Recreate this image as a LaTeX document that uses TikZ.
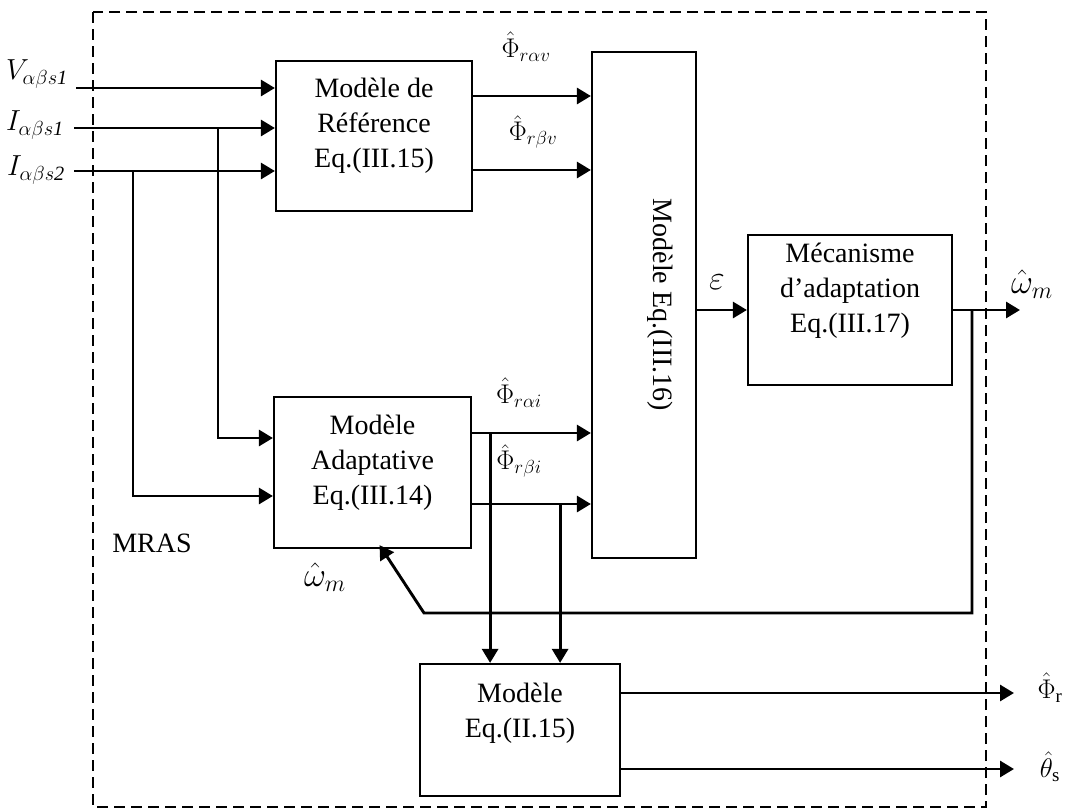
\documentclass[tikz,border=0pt]{standalone}
\usepackage{fix-cm}
\usepackage{amsmath,amssymb}
\usepackage{fontspec}
\setmainfont{Liberation Serif}
\usepackage{xcolor}
\usepackage{tikz}
\usetikzlibrary{arrows.meta,positioning,calc}

\newcommand{\boxfont}{\fontsize{28}{35}\selectfont}
\newcommand{\sigfont}{\fontsize{29}{33}\selectfont}
\newcommand{\omegafont}{\fontsize{34}{38}\selectfont}
\newcommand{\phifont}{\fontsize{27}{31}\selectfont}
\newcommand{\lowpad}[1]{\rule[-#1]{0pt}{#1}}

\begin{document}
\begin{tikzpicture}[
    x=1pt, y=-1pt,
    block/.style={rectangle, draw, line width=2.2pt, align=center, inner sep=0pt, font=\boxfont},
    arrow/.style={-{Triangle[length=14pt,width=16pt]}, line width=2.9pt},
    sig/.style={inner sep=0pt, font=\sigfont},
    flux/.style={inner sep=0pt, font=\phifont},
    frame/.style={line width=2pt, dash pattern=on 11pt off 6pt}
]
\useasboundingbox (0,0) rectangle (1070,811);

% MRAS frame
\draw[frame] (93,12) rectangle (986,807);

% Nodes
\node[block, minimum width=196pt, minimum height=150pt] (ref_model) at (374,136) {Modèle de\\Référence\\Eq.(III.15)\lowpad{26pt}};
\node[block, minimum width=197pt, minimum height=151pt] (adapt_model) at (372.5,472.5) {Modèle\\Adaptative\\Eq.(III.14)\lowpad{26pt}};
\node[block, minimum width=104pt, minimum height=506pt] (flux_cmp) at (644,305) {\rotatebox{-90}{Modèle Eq.(III.16)\lowpad{38pt}}};
\node[block, minimum width=204pt, minimum height=150pt] (adapt_mech) at (850,310) {Mécanisme\\d’adaptation\\Eq.(III.17)\lowpad{44pt}};
\node[block, minimum width=200pt, minimum height=132pt] (flux_est) at (520,730) {Modèle\\Eq.(II.15)\lowpad{40pt}};

\node[sig] (v_lbl) at (37,74) {$V_{\alpha\beta s\mathit{1}}$};
\node[sig] (i1_lbl) at (35,125) {$I_{\alpha\beta s\mathit{1}}$};
\node[sig] (i2_lbl) at (36,170) {$I_{\alpha\beta s\mathit{2}}$};
\node[flux] (rav_lbl) at (526,47) {$\hat{\Phi}_{r\alpha v}$};
\node[flux] (rbv_lbl) at (533,132) {$\hat{\Phi}_{r\beta v}$};
\node[flux] (rai_lbl) at (519,393) {$\hat{\Phi}_{r\alpha i}$};
\node[flux] (rbi_lbl) at (519,461) {$\hat{\Phi}_{r\beta i}$};
\node[inner sep=0pt, font=\fontsize{34}{38}\selectfont] (eps_lbl) at (717,282) {$\varepsilon$};
\node[inner sep=0pt, font=\omegafont] (w_lbl) at (1032,284) {$\hat{\omega}_m$};
\node[inner sep=0pt, font=\omegafont] (wfb_lbl) at (325,577) {$\hat{\omega}_m$};
\node[inner sep=0pt, font=\boxfont] (mras_lbl) at (152,543) {MRAS};
\node[flux] (phi_lbl) at (1050,688) {$\hat{\Phi}_{\mathrm{r}}$};
\node[flux] (theta_lbl) at (1050,767) {$\hat{\theta}_{\mathrm{s}}$};

% Edges
\coordinate (v_start) at (76,88);
\coordinate (i1_start) at (74,128);
\coordinate (i2_start) at (74,171);
\draw[arrow] (v_start) -- (v_start -| ref_model.west);
\draw[arrow] (i1_start) -- (i1_start -| ref_model.west);
\draw[arrow] (i2_start) -- (i2_start -| ref_model.west);

\coordinate (i1_tap) at (218,128);
\coordinate (i2_tap) at (133,171);
\draw[arrow] (i1_tap) |- ([yshift=34.5pt]adapt_model.west);
\draw[arrow] (i2_tap) |- ([yshift=-23.5pt]adapt_model.west);

\coordinate (rav) at ([yshift=40pt]ref_model.east);
\coordinate (rbv) at ([yshift=-34pt]ref_model.east);
\draw[arrow] (rav) -- (rav -| flux_cmp.west);
\draw[arrow] (rbv) -- (rbv -| flux_cmp.west);

\coordinate (rai) at ([yshift=39.5pt]adapt_model.east);
\coordinate (rbi) at ([yshift=-31.5pt]adapt_model.east);
\draw[arrow] (rai) -- (rai -| flux_cmp.west);
\draw[arrow] (rbi) -- (rbi -| flux_cmp.west);

\coordinate (rai_tap) at ($(rai)+(18,0)$);
\coordinate (rbi_tap) at ($(rbi)+(88,0)$);
\draw[arrow] (rai_tap) -- (rai_tap |- flux_est.north);
\draw[arrow] (rbi_tap) -- (rbi_tap |- flux_est.north);

\draw[arrow] (flux_cmp.east |- adapt_mech.west) -- (adapt_mech.west);

\coordinate (w_out) at (1020,310);
\coordinate (w_tap) at (972,310);
\coordinate (fb_corner) at (424,613);
\draw[arrow] (adapt_mech.east) -- (w_out);
\draw[arrow] (w_tap) |- (fb_corner) -- ([xshift=7pt,yshift=4pt]adapt_model.south);

\coordinate (phi_out) at (1014,693);
\coordinate (theta_out) at (1014,769);
\draw[arrow] (flux_est.east |- phi_out) -- (phi_out);
\draw[arrow] (flux_est.east |- theta_out) -- (theta_out);

\end{tikzpicture}
\end{document}
